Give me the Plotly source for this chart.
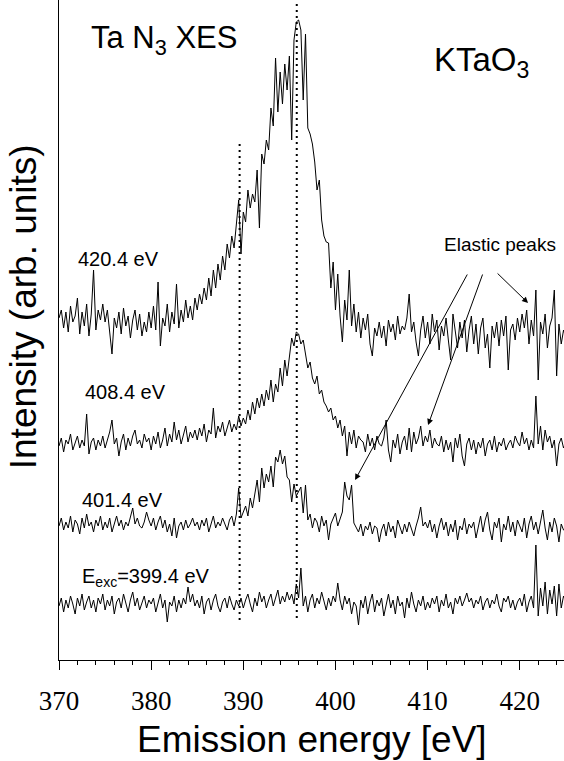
import plotly.graph_objects as go

# Emission energy grid (eV), 0.25 eV steps from 370 to 425
energy = [370 + 0.25 * i for i in range(221)]

# Relative intensities (arb. units), one row per 5 eV
int_399 = [
    2, 10, -4, 8, 0, 12, 4, -6, 10, 2, 14, -2, 6, 12, 0, 8, -4, 10, 4, 14,
    -2, 8, 2, 12, -6, 6, 10, 0, 14, 4, -4, 8, 16, 2, 10, -2, 6, 12, 0, 8,
    4, 10, -4, 6, 14, 0, 8, -14, 6, 2, 12, -4, 8, 0, 10, 4, 21, 6, 14, 2,
    8, 0, 12, -6, 6, 10, -2, 8, 14, 2, -4, 6, 10, 0, 12, 4, -2, 8, 2, 10,
    0, 8, 14, 4, -4, 10, 2, 16, 6, 12, 0, 8, 14, 2, 10, 18, 4, 12, 6, 16,
    8, 14, 4, 24, 10, 40, 2, 12, -4, 8, 14, 0, 10, 4, 16, 6, -2, 10, 2, 12,
    6, 25, 8, -2, 12, 4, 10, -6, 6, 2, -17, 8, 0, 12, -6, 6, 14, -4, 8, 2,
    10, -8, 4, 14, 0, 8, -6, 12, 2, 6, -10, 10, 0, 16, 4, -4, 8, 2, 12, -2,
    6, 0, 10, 4, 12, -4, 8, 2, 14, 0, 6, -6, 10, 4, 12, 2, 8, 15, 6, 10,
    0, 8, 4, 12, -2, 6, 10, 0, 8, 4, 14, 2, -4, 10, 6, 12, 0, 8, -2, 6,
    10, 2, 14, -4, 6, 12, 0, 63, -8, 20, 2, 26, -6, 18, 4, 22, -8, 24, 0, 12,
    6,
]
int_401 = [
    6, 14, 2, 10, 4, 16, 0, 12, 8, -2, 14, 4, 18, 6, 10, 0, 12, 6, 16, 2,
    10, 4, 14, 0, 8, 16, 6, 12, 2, 10, 6, 14, 24, 8, 14, 6, 4, 10, 20, 12,
    6, 14, 2, 10, 16, 4, 12, 0, 8, -4, 14, -6, 6, 10, 2, 12, 4, 8, 14, 6,
    10, 2, 12, 6, 14, 0, 8, 16, 4, 10, 6, 14, 8, 2, 12, 16, 6, 18, 44, 14,
    20, 26, 16, 34, 24, 38, 52, 30, 64, 44, 58, 50, 66, 45, 75, 70, 82, 68, 76, 55,
    52, 30, 48, 36, 40, 45, 19, 47, 12, 18, 4, 14, 10, 0, 16, 6, 12, -8, 8, 14,
    19, 6, 12, 20, 50, 36, 32, 47, 9, 4, 0, 8, -4, 6, 2, 10, -2, 6, 4, -10,
    2, 8, -4, 10, 0, 6, -6, 12, 4, -2, 8, 0, 10, 4, -4, 6, 14, 25, 6, 10,
    4, 12, 0, 8, -6, 6, 14, 2, 10, -4, 8, 0, 12, -8, 6, 2, 14, -2, 8, 4,
    10, -6, 6, 16, 0, 12, 20, 2, -8, 10, 4, 14, -10, 8, 2, 16, 0, 10, -4, 12,
    6, 0, 14, -6, 8, 16, 2, 10, -2, 12, 22, 4, -8, 10, 0, 14, 6, -10, 8, 2,
    4,
]
int_408 = [
    4, 12, -2, 10, 6, 16, 0, 8, 14, 2, 10, 4, 36, -4, 8, 12, 0, 10, 4, 14,
    2, 10, 18, 30, 6, 12, -6, 8, 16, 0, 12, 4, 14, 20, 6, 10, 2, 16, 8, 12,
    0, 14, 6, 18, 2, 10, 22, 4, 16, 8, 28, 10, 20, 6, 14, 24, 8, 18, 12, 20,
    10, 22, 14, 26, 8, 20, 16, 42, 12, 24, 18, 28, 14, 22, 30, 18, 26, 20, 34, 24,
    32, 26, 40, 30, 48, 36, 52, 42, 56, 44, 60, 50, 70, 48, 66, 58, 82, 64, 90, 74,
    96, 112, 104, 118, 116, 106, 110, 96, 82, 88, 72, 66, 74, 56, 60, 48, 44, 38, 42, 30,
    34, 22, 30, 14, 24, -6, 18, 6, 20, 2, 14, 10, 8, -2, 16, 4, 12, 0, 14, 6,
    4, 12, 30, 0, -12, 10, 2, 16, -4, 8, 14, 0, 22, -2, 18, 6, 12, 24, 4, 14,
    8, 20, 2, 12, 6, 4, 14, -2, 10, 0, 8, -12, 12, 2, 16, -6, -16, 6, 12, 0,
    10, -4, 8, 2, 12, -6, 6, 10, 0, 14, -2, 8, 4, 12, 0, 6, 10, 2, 14, 8,
    4, 18, 6, 12, 0, 10, 2, 54, 6, 24, 0, 20, 8, 14, 2, 10, -16, 6, 12, 2,
    8,
]
int_420 = [
    22, 30, 12, 28, 8, 34, 18, 24, 42, 6, 28, 14, 36, 4, 26, 70, 10, 30, 20, 36,
    18, 30, 8, -14, 22, 12, 28, 6, 32, 14, 24, 2, 20, 30, 10, 26, 4, 18, 8, 28,
    12, 34, 10, 58, -6, 22, 14, 36, 8, 28, 16, 56, 12, 30, 18, 40, 22, 34, 20, 42,
    30, 46, 36, 52, 40, 62, 44, 70, 52, 76, 60, 84, 70, 96, 82, 104, 92, 118, 140, 86,
    128, 118, 150, 132, 146, 138, 170, 112, 186, 176, 200, 190, 232, 214, 282, 228, 268, 236, 276, 250,
    284, 200, 300, 318, 320, 310, 240, 306, 212, 206, 196, 178, 150, 160, 120, 104, 98, 97, 52, 78,
    30, 66, 24, -2, 40, 20, 70, 14, 36, 8, 28, 2, 22, 10, 26, -4, -16, 12, 4, 18,
    2, 14, -6, 20, 8, 16, 0, 24, 6, 14, 10, 22, 46, 8, 18, -2, -16, 10, 24, 2,
    18, -4, 26, 8, 20, -10, 14, 4, 22, 0, -20, 26, 6, -8, 18, 2, 20, -12, 10, 24,
    -4, 16, -14, 12, 22, -8, 6, -28, 14, 2, 18, -6, 20, 4, 24, -30, 10, 16, 0, 22,
    8, 26, 12, 30, -4, 20, 4, 50, -40, 18, 6, 26, -8, 14, 22, 50, -36, 16, -4, 10,
    2,
]

spectra = [int_399, int_401, int_408, int_420]
offsets = [52, 128, 210, 320]
excitation_labels = ["E<sub>exc</sub>=399.4 eV", "401.4 eV", "408.4 eV", "420.4 eV"]

# Reference energies marked by dotted lines (eV) and their vertical extent
marker_energy = [389.6, 395.8]
marker_bottom = [40, 42]
marker_top = [517, 665]

SANS = "Liberation Sans"
SERIF = "Times New Roman"

fig = go.Figure()

for vals, off in zip(spectra, offsets):
    fig.add_trace(go.Scatter(
        x=energy, y=[v + off for v in vals], mode="lines",
        line=dict(color="black", width=1), showlegend=False, hoverinfo="skip",
    ))

for e, lo, hi in zip(marker_energy, marker_bottom, marker_top):
    fig.add_trace(go.Scatter(
        x=[e, e], y=[lo, hi], mode="lines",
        line=dict(color="black", width=2, dash="2px,4px"),
        showlegend=False, hoverinfo="skip",
    ))

annotations = []

# Spectrum labels
label_pos = [(372.3, 83), (372.3, 160), (372.6, 268), (371.85, 401)]
for text, (lx, ly) in zip(excitation_labels, label_pos):
    annotations.append(dict(x=lx, y=ly, xref="x", yref="y", text=text,
                            showarrow=False, xanchor="left", yanchor="middle",
                            font=dict(family=SANS, size=20, color="black")))

annotations.append(dict(x=373.3, y=620, xref="x", yref="y",
                        text="Ta N<sub>3</sub> XES", showarrow=False,
                        xanchor="left", yanchor="middle",
                        font=dict(family=SANS, size=31, color="black")))
annotations.append(dict(x=410.5, y=598, xref="x", yref="y",
                        text="KTaO<sub>3</sub>", showarrow=False,
                        xanchor="left", yanchor="middle",
                        font=dict(family=SANS, size=33, color="black")))
annotations.append(dict(x=411.6, y=416, xref="x", yref="y",
                        text="Elastic peaks", showarrow=False,
                        xanchor="left", yanchor="middle",
                        font=dict(family=SANS, size=19, color="black")))

# Arrows pointing to the elastic peaks (head, tail)
arrows = [((402.13, 180), (414.39, 387)),
          ((410.05, 235), (416.02, 387)),
          ((420.9, 357), (417.43, 388))]
for (hx, hy), (tx, ty) in arrows:
    annotations.append(dict(x=hx, y=hy, ax=tx, ay=ty, xref="x", yref="y",
                            axref="x", ayref="y", text="", showarrow=True,
                            arrowhead=2, arrowsize=1.2, arrowwidth=1,
                            arrowcolor="black"))

# Axis titles
annotations.append(dict(x=0.501, y=-0.121, xref="paper", yref="paper",
                        text="Emission energy [eV]", showarrow=False,
                        xanchor="center", yanchor="middle",
                        font=dict(family=SANS, size=37, color="black")))
annotations.append(dict(x=-0.0713, y=0.536, xref="paper", yref="paper",
                        text="Intensity (arb. units)", showarrow=False,
                        textangle=-90, xanchor="center", yanchor="middle",
                        font=dict(family=SANS, size=37, color="black")))

fig.update_layout(
    width=564, height=761,
    margin=dict(l=59, r=0, t=0, b=101),
    paper_bgcolor="white", plot_bgcolor="white",
    annotations=annotations,
    xaxis=dict(
        range=[370, 424.8], showgrid=False, zeroline=False,
        showline=True, linecolor="black", linewidth=1,
        ticks="outside", ticklen=9, tickwidth=1, tickcolor="black",
        tick0=370, dtick=10, ticklabelstandoff=8,
        minor=dict(ticks="outside", ticklen=4, tickwidth=1, tickcolor="black", dtick=2),
        tickfont=dict(family=SERIF, size=27, color="black"),
    ),
    yaxis=dict(
        range=[0, 660], showgrid=False, zeroline=False,
        showline=True, linecolor="black", linewidth=1,
        ticks="", showticklabels=False,
    ),
)

fig.write_html("out.html")
